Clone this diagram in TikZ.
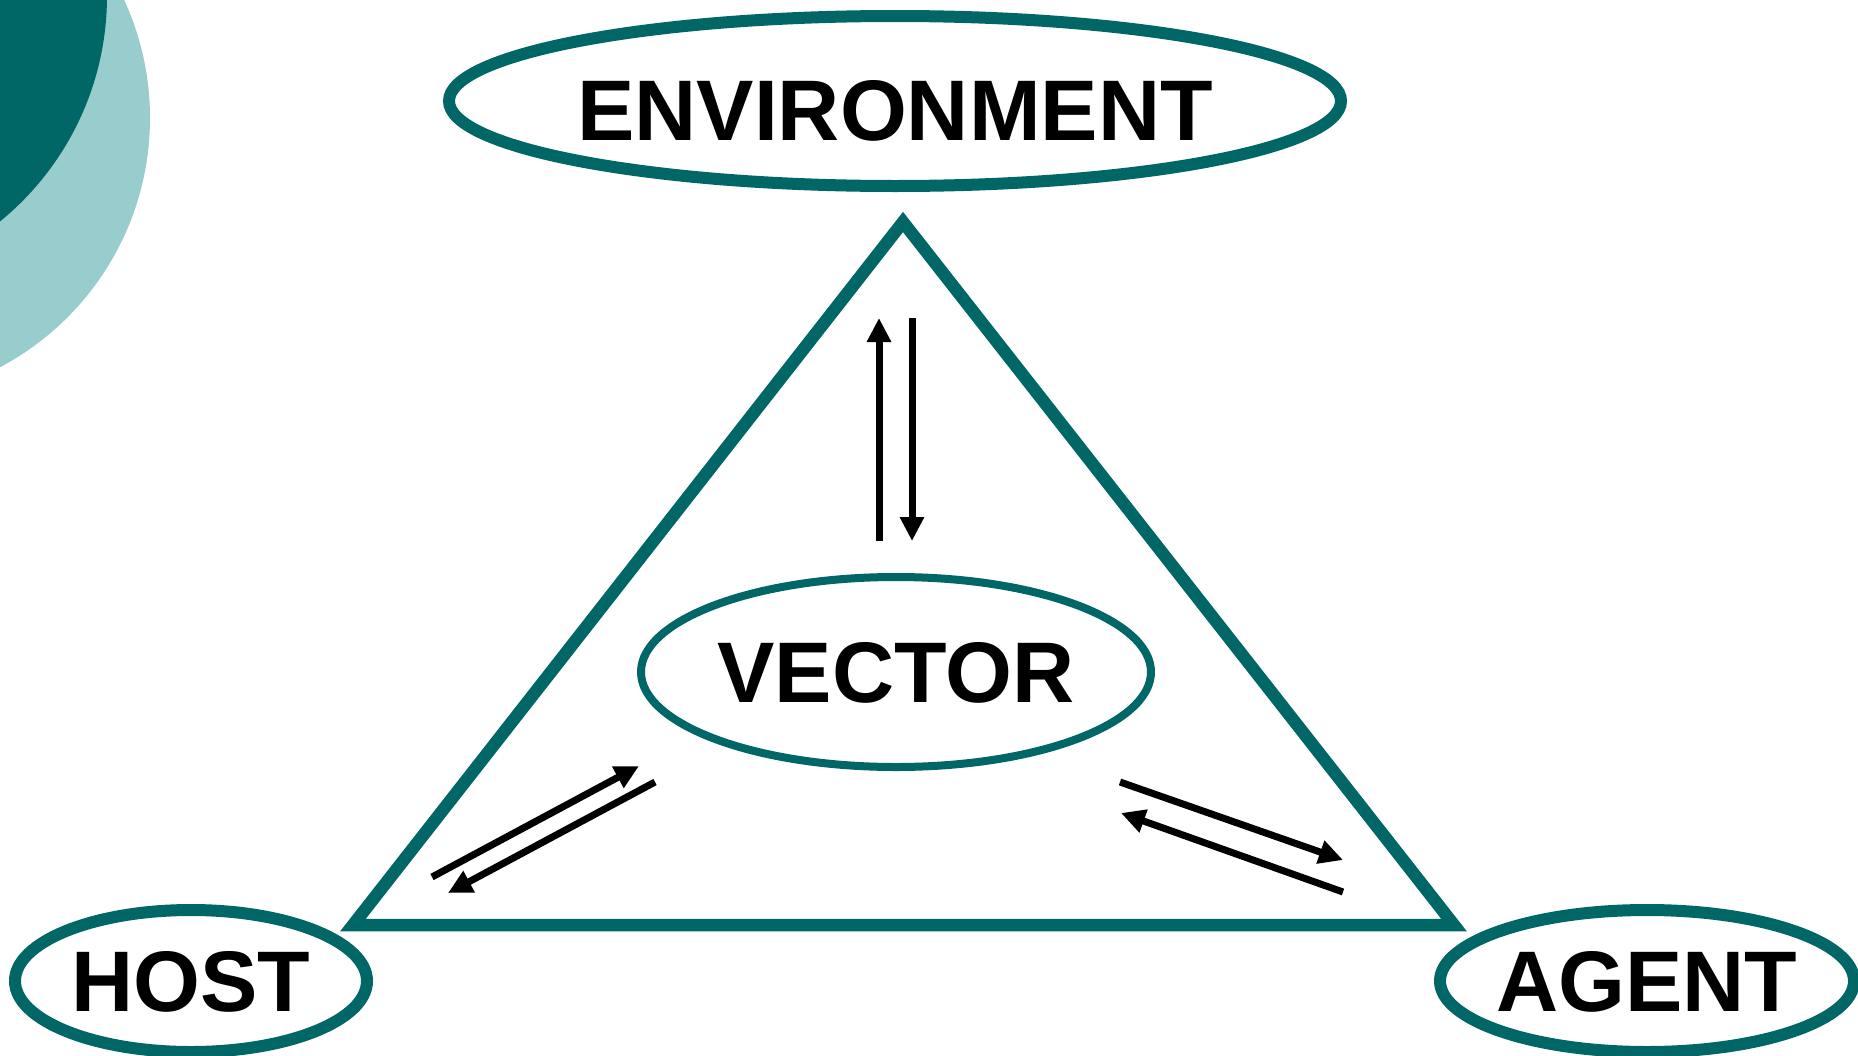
\documentclass[tikz,border=0pt]{standalone}
\usepackage{fontspec}
\setmainfont{Liberation Sans}
\usepackage{tikz}
\usetikzlibrary{shapes.geometric,arrows.meta}
\definecolor{darkteal}{HTML}{006666}
\definecolor{lightteal}{HTML}{99CCCC}
\tikzstyle{ell} = [ellipse, draw=darkteal, line width=6pt, inner xsep=-4pt, inner ysep=0pt, text height=30.8pt, text depth=0pt, font=\fontsize{43}{43}\selectfont\bfseries]

\begin{document}
\begin{tikzpicture}[x=0.5pt,y=-0.5pt]
\tikzstyle{arr} = [-{Triangle[length=12pt,width=11.5pt]}, line width=3.5pt]
\useasboundingbox (0,0) rectangle (1858,1055);
\clip (0,0) rectangle (1858,1055);
% corner decoration
\fill[lightteal] (-132,118) circle[radius=141pt];
\fill[darkteal] (-184,-4) circle[radius=145.5pt];
% triangle
\draw[darkteal, line width=6.25pt] (903,222) -- (1454,925) -- (353,925) -- cycle;
\node[ell, minimum width=446pt, minimum height=85pt, text height=39.3pt] (env) at (895,101) {ENVIRONMENT};
\node[ell, line width=4pt, minimum width=255pt, minimum height=95pt] (vec) at (896,672) {VECTOR};
\node[ell, minimum width=176pt, minimum height=71pt] (host) at (191,981) {HOST};
\node[ell, minimum width=207pt, minimum height=71pt] (agent) at (1647,981) {AGENT};
\coordinate (ev1) at (879,541);
\coordinate (ev2) at (879,318);
\coordinate (ve1) at (912,318);
\coordinate (ve2) at (912,541);
\coordinate (hv1) at (432,877);
\coordinate (hv2) at (639,766);
\coordinate (vh1) at (655,782);
\coordinate (vh2) at (448,893);
\coordinate (va1) at (1120,782);
\coordinate (va2) at (1343,860);
\coordinate (av1) at (1343,892);
\coordinate (av2) at (1121,813);
\draw[arr] (ev1) -- (ev2);
\draw[arr] (ve1) -- (ve2);
\draw[arr] (hv1) -- (hv2);
\draw[arr] (vh1) -- (vh2);
\draw[arr] (va1) -- (va2);
\draw[arr] (av1) -- (av2);
\end{tikzpicture}
\end{document}
